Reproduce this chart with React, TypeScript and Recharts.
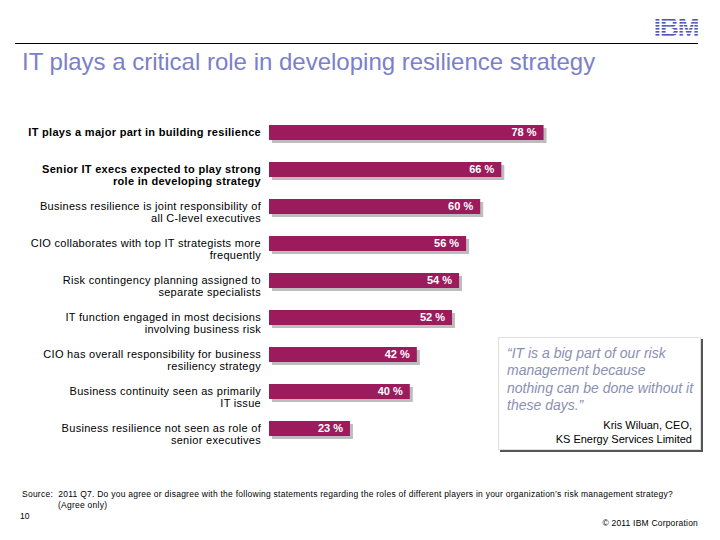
import React from "react";
import { Bar, BarChart, LabelList, XAxis, YAxis } from "recharts";

const statements = [
  "IT plays a major part in building resilience",
  "Senior IT execs expected to play strong\nrole in developing strategy",
  "Business resilience is joint responsibility of\nall C-level executives",
  "CIO collaborates with top IT strategists more\nfrequently",
  "Risk contingency planning assigned to\nseparate specialists",
  "IT function engaged in most decisions\ninvolving business risk",
  "CIO has overall responsibility for business\nresiliency strategy",
  "Business continuity seen as primarily\nIT issue",
  "Business resilience not seen as role of\nsenior executives",
];
const agreePct = [78, 66, 60, 56, 54, 52, 42, 40, 23];
const emphasised = [0, 1];

const data = statements.map((name, i) => ({ name, value: agreePct[i] }));

const FONT = "'Liberation Sans', Arial, sans-serif";
const BAR = "#9b1b5c";

function LabelTick(props: any) {
  const { x, y, payload, index } = props;
  const lines: string[] = String(payload.value).split("\n");
  const bold = emphasised.includes(index);
  return (
    <text
      x={x}
      y={y}
      textAnchor="end"
      fontFamily={FONT}
      fontSize={11}
      letterSpacing={0.3}
      fill="#000"
      fontWeight={bold ? 700 : 400}
    >
      {lines.map((l, i) => (
        <tspan key={i} x={x} dy={i === 0 ? 3 : 12.5}>
          {l}
        </tspan>
      ))}
    </text>
  );
}

function ShadowBar(props: any) {
  const { x, y, width, height } = props;
  return (
    <g>
      <rect x={x + 3} y={y + 3} width={width} height={height} fill="#bdbdbd" />
      <rect x={x} y={y} width={width} height={height} fill={BAR} />
    </g>
  );
}

export default function App() {
  return (
    <div style={{ position: "absolute", left: 0, top: 0, width: 720, height: 540, background: "#fff", fontFamily: FONT }}>
      {/* IBM logo, striped via pattern fill */}
      <svg style={{ position: "absolute", left: 644, top: 10 }} width={64} height={32}>
        <defs>
          <pattern id="ibmStripes" patternUnits="userSpaceOnUse" width={4} height={3}>
            <rect x={0} y={0} width={4} height={1.8} fill="#4d55b8" />
            <rect x={0} y={1.8} width={4} height={1.2} fill="#ffffff" />
          </pattern>
        </defs>
        <text x={32} y={26} textAnchor="middle" fontFamily={FONT} fontWeight={900} fontSize={26} fill="url(#ibmStripes)" letterSpacing={-1}>
          IBM
        </text>
      </svg>
      <div style={{ position: "absolute", left: 15, top: 43, width: 683, height: 1, background: "#000" }} />
      <div style={{ position: "absolute", left: 22, top: 48, fontSize: 24, color: "#7b80c8", whiteSpace: "nowrap" }}>
        IT plays a critical role in developing resilience strategy
      </div>

      <div style={{ position: "absolute", left: 0, top: 0 }}>
        <BarChart
          width={720}
          height={540}
          data={data}
          layout="vertical"
          margin={{ top: 114, right: 99, bottom: 93, left: 0 }}
        >
          <XAxis type="number" domain={[0, 100]} hide />
          <YAxis type="category" dataKey="name" width={269} axisLine={false} tickLine={false} tick={<LabelTick />} interval={0} />
          <Bar dataKey="value" fill={BAR} barSize={15} shape={<ShadowBar />} isAnimationActive={false}>
            <LabelList
              dataKey="value"
              position="insideRight"
              offset={7}
              formatter={(v: any) => `${v} %`}
              fill="#fff"
              fontFamily={FONT}
              fontSize={11}
              fontWeight={700}
            />
          </Bar>
        </BarChart>
      </div>

      {/* quote box */}
      <div
        style={{
          position: "absolute",
          left: 498,
          top: 337,
          width: 203,
          height: 113,
          background: "#fff",
          border: "1px solid #e0e0e0",
          boxShadow: "2px 2px 0 #555",
          boxSizing: "border-box",
        }}
      >
        <div style={{ position: "absolute", left: 8, top: 7, whiteSpace: "nowrap", fontSize: 14, lineHeight: "17.3px", fontStyle: "italic", color: "#8a8fb3" }}>
          “IT is a big part of our risk
          <br />
          management because
          <br />
          nothing can be done without it
          <br />
          these days.”
        </div>
        <div style={{ position: "absolute", right: 8, top: 80, fontSize: 11, lineHeight: "14px", textAlign: "right", color: "#000", whiteSpace: "nowrap" }}>
          Kris Wiluan, CEO,
          <br />
          KS Energy Services Limited
        </div>
      </div>

      <div style={{ position: "absolute", left: 22, top: 489, fontSize: 8.5, lineHeight: "11px", letterSpacing: 0.25, color: "#000", whiteSpace: "nowrap" }}>
        Source:&nbsp; 2011 Q7. Do you agree or disagree with the following statements regarding the roles of different players in your organization’s risk management strategy?
        <br />
        <span style={{ paddingLeft: 36 }}>(Agree only)</span>
      </div>
      <div style={{ position: "absolute", left: 20, top: 511, fontSize: 8.5, color: "#000" }}>10</div>
      <div style={{ position: "absolute", right: 22, top: 518, fontSize: 8.5, letterSpacing: 0.2, color: "#000" }}>© 2011 IBM Corporation</div>
    </div>
  );
}
